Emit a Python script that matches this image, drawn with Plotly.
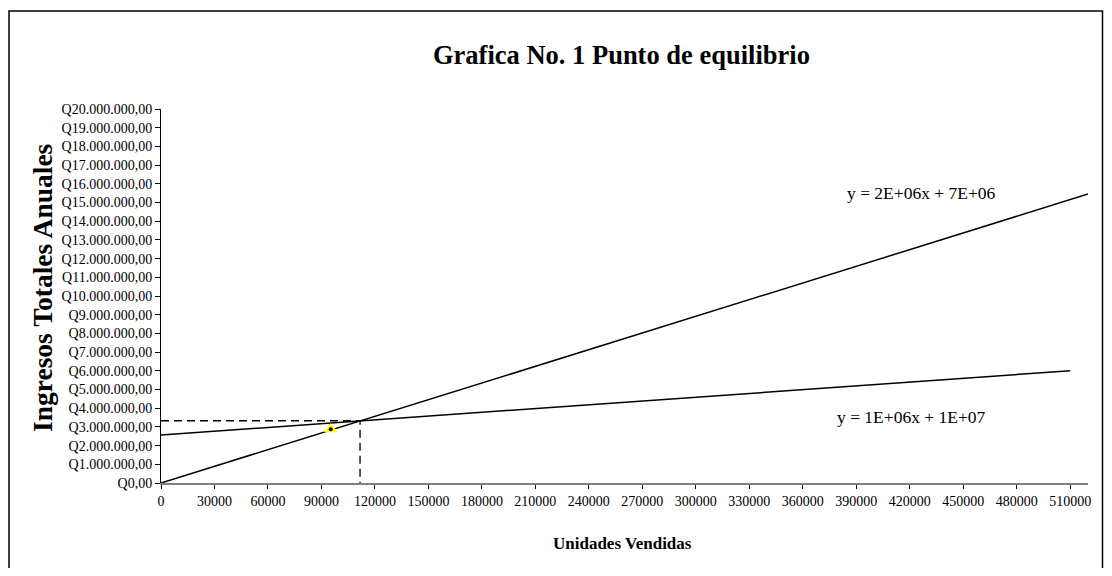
import plotly.graph_objects as go

# ---------------- data ----------------
ingresos_x = [0, 520000]
ingresos_y = [0, 15450000]

costos_x = [0, 510000]
costos_y = [2570000, 6000000]

equilibrio_x = 111650
equilibrio_y = 3330000

marcador_x = [95200]
marcador_y = [2870000]

x_ticks = list(range(0, 510001, 30000))
y_ticks = [i * 1000000 for i in range(0, 21)]
y_tick_labels = ["Q0,00"] + [f"Q{i}.000.000,00" for i in range(1, 21)]

eq_ingresos = "y = 2E+06x + 7E+06"
eq_costos = "y = 1E+06x + 1E+07"

title_text = "Grafica No. 1 Punto de equilibrio"
x_title = "Unidades Vendidas"
y_title = "Ingresos Totales Anuales"

# ---------------- layout geometry ----------------
# page body has an 8px margin on every side, so the figure is drawn 16px
# smaller (no scrollbars) and all target page coordinates are shifted by OFF
OFF = 8
W, H = 1112 - 2 * OFF, 576 - 2 * OFF
L, T = 161 - OFF, 109 - OFF
R = W - (1088 - OFF)
B = H - (483 - OFF)
PW = W - L - R
PH = H - T - B


def px(xp):
    return (xp - OFF - L) / PW


def py(yp):
    return (H - B - (yp - OFF)) / PH


FONT = "Liberation Serif, Times New Roman, serif"

fig = go.Figure()

fig.add_trace(go.Scatter(x=ingresos_x, y=ingresos_y, mode="lines",
                         line=dict(color="black", width=1.5), showlegend=False))
fig.add_trace(go.Scatter(x=costos_x, y=costos_y, mode="lines",
                         line=dict(color="black", width=1.5), showlegend=False))
# dashed guide lines to the break-even point
fig.add_trace(go.Scatter(x=[0, equilibrio_x, equilibrio_x], y=[equilibrio_y, equilibrio_y, 0],
                         mode="lines", line=dict(color="black", width=1.3, dash="8px,5px"),
                         showlegend=False))
fig.add_trace(go.Scatter(x=marcador_x, y=marcador_y, mode="markers",
                         marker=dict(symbol="triangle-up", size=12, color="#ffff00",
                                     line=dict(color="#ffff00", width=0)),
                         showlegend=False))
fig.add_trace(go.Scatter(x=marcador_x, y=marcador_y, mode="markers",
                         marker=dict(symbol="circle", size=4, color="black"),
                         showlegend=False))

fig.update_layout(
    width=W, height=H,
    margin=dict(l=L, r=R, t=T, b=B),
    paper_bgcolor="white", plot_bgcolor="white",
    font=dict(family=FONT, color="black", size=14),
    xaxis=dict(range=[0, 520000], tickvals=x_ticks, ticktext=[str(v) for v in x_ticks],
               showgrid=False, zeroline=False, showline=True, linecolor="#808080", linewidth=2,
               ticks="outside", ticklen=4, tickcolor="black", tickwidth=1,
               tickfont=dict(family=FONT, size=14), fixedrange=True),
    yaxis=dict(range=[0, 20000000], tickvals=y_ticks, ticktext=y_tick_labels,
               showgrid=False, zeroline=False, showline=True, linecolor="black", linewidth=1,
               ticks="outside", ticklen=5, tickcolor="black", tickwidth=1,
               tickfont=dict(family=FONT, size=14), fixedrange=True),
    annotations=[
        dict(text=f"<b>{title_text}</b>", xref="paper", yref="paper", x=px(621), y=py(55),
             showarrow=False, font=dict(family=FONT, size=26.5), xanchor="center", yanchor="middle"),
        dict(text=f"<b>{x_title}</b>", xref="paper", yref="paper", x=px(622), y=py(543),
             showarrow=False, font=dict(family=FONT, size=17), xanchor="center", yanchor="middle"),
        dict(text=f"<b>{y_title}</b>", xref="paper", yref="paper", x=px(42), y=py(288),
             showarrow=False, font=dict(family=FONT, size=27.5), textangle=-90,
             xanchor="center", yanchor="middle"),
        dict(text=eq_ingresos, xref="paper", yref="paper", x=px(921), y=py(193),
             showarrow=False, font=dict(family=FONT, size=17.5), xanchor="center", yanchor="middle"),
        dict(text=eq_costos, xref="paper", yref="paper", x=px(911), y=py(417),
             showarrow=False, font=dict(family=FONT, size=17.5), xanchor="center", yanchor="middle"),
    ],
    shapes=[
        dict(type="rect", xref="paper", yref="paper", x0=px(9), x1=px(1102.5), y0=py(600), y1=py(11),
             line=dict(color="black", width=1.5), fillcolor="rgba(0,0,0,0)", layer="below"),
    ],
)

fig.write_html("out.html", config=dict(displayModeBar=False))
